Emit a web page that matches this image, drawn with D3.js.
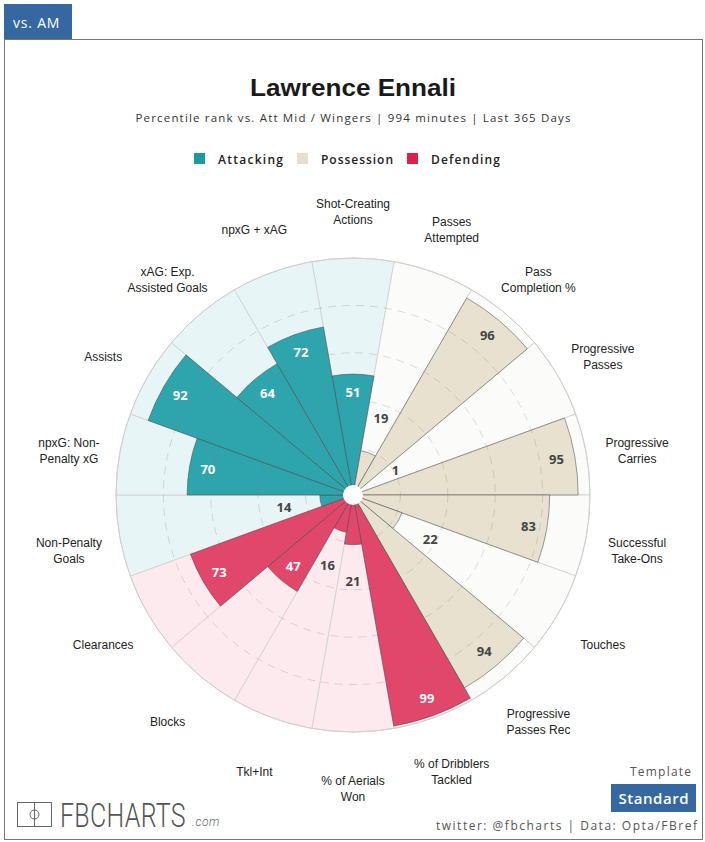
<!DOCTYPE html>
<html>
<head>
<meta charset="utf-8">
<script src="https://cdn.jsdelivr.net/npm/d3@7/dist/d3.min.js"></script>
<style>
  html, body { margin: 0; padding: 0; background: #fff; }
  svg { display: block; }
</style>
</head>
<body>
<svg id="chart" width="705" height="842"></svg>
<script>
// ---- data ----
const categories = [
  "Shot-Creating Actions", "Passes Attempted", "Pass Completion %", "Progressive Passes",
  "Progressive Carries", "Successful Take-Ons", "Touches", "Progressive Passes Rec",
  "% of Dribblers Tackled", "% of Aerials Won", "Tkl+Int", "Blocks", "Clearances",
  "Non-Penalty Goals", "npxG: Non-Penalty xG", "Assists", "xAG: Exp. Assisted Goals", "npxG + xAG"
];
const labelLines = [
  ["Shot-Creating", "Actions"], ["Passes", "Attempted"], ["Pass", "Completion %"], ["Progressive", "Passes"],
  ["Progressive", "Carries"], ["Successful", "Take-Ons"], ["Touches"], ["Progressive", "Passes Rec"],
  ["% of Dribblers", "Tackled"], ["% of Aerials", "Won"], ["Tkl+Int"], ["Blocks"], ["Clearances"],
  ["Non-Penalty", "Goals"], ["npxG: Non-", "Penalty xG"], ["Assists"], ["xAG: Exp.", "Assisted Goals"], ["npxG + xAG"]
];
const percentiles = [51, 19, 96, 1, 95, 83, 22, 94, 99, 21, 16, 47, 73, 14, 70, 92, 64, 72];
const groups = [
  "Attacking", "Possession", "Possession", "Possession", "Possession", "Possession", "Possession", "Possession",
  "Defending", "Defending", "Defending", "Defending", "Defending",
  "Attacking", "Attacking", "Attacking", "Attacking", "Attacking"
];
const groupNames = ["Attacking", "Possession", "Defending"];
const gridTicks = [20, 40, 60, 80];

// ---- styles ----
const barColor = d3.scaleOrdinal().domain(groupNames).range(["#2ea5ac", "#e8e1d0", "#e1466b"]);
const bgColor = d3.scaleOrdinal().domain(groupNames).range(["#e8f5f6", "#fbfbf9", "#fdeaef"]);
const legendColor = d3.scaleOrdinal().domain(groupNames).range(["#1a9aa1", "#e6dfcf", "#dc1f4b"]);

const svg = d3.select("#chart");
const cx = 353, cy = 495, R = 237;

// tab
svg.append("rect").attr("x", 4).attr("y", 4).attr("width", 68).attr("height", 35).attr("fill", "#3568a0");
svg.append("text").attr("x", 13).attr("y", 28).text("vs. AM")
  .attr("fill", "#fff").attr("font-family", "'Open Sans', 'DejaVu Sans', sans-serif")
  .attr("font-size", 14).attr("font-weight", 500).attr("letter-spacing", 0.8);

// card
svg.append("rect").attr("x", 4.5).attr("y", 39.5).attr("width", 698).attr("height", 800)
  .attr("fill", "none").attr("stroke", "#777").attr("stroke-width", 1);

// title
svg.append("text").attr("x", cx).attr("y", 96).attr("text-anchor", "middle")
  .attr("font-family", "'Liberation Sans', Arial, sans-serif").attr("font-weight", 700)
  .attr("font-size", 24).attr("fill", "#1a1a1a")
  .attr("textLength", 206).attr("lengthAdjust", "spacingAndGlyphs")
  .text("Lawrence Ennali");

svg.append("text").attr("x", cx).attr("y", 122).attr("text-anchor", "middle")
  .attr("font-family", "'Open Sans', 'DejaVu Sans', sans-serif")
  .attr("font-size", 11.5).attr("fill", "#333")
  .attr("textLength", 435).attr("lengthAdjust", "spacing")
  .text("Percentile rank vs. Att Mid / Wingers | 994 minutes | Last 365 Days");

// legend
const legendX = [194, 297, 407];
const legendW = [65, 72, 69];
const leg = svg.append("g");
groupNames.forEach((g, i) => {
  leg.append("rect").attr("x", legendX[i]).attr("y", 153).attr("width", 11).attr("height", 11)
    .attr("fill", legendColor(g));
  leg.append("text").attr("x", legendX[i] + 24).attr("y", 164)
    .attr("font-family", "'Open Sans', 'DejaVu Sans', sans-serif").attr("font-weight", 600)
    .attr("font-size", 12).attr("fill", "#222")
    .attr("textLength", legendW[i]).attr("lengthAdjust", "spacing")
    .text(g);
});

// ---- polar chart ----
const x = d3.scaleBand().domain(categories).range([-Math.PI / 18, 2 * Math.PI - Math.PI / 18]).padding(0);
const r = d3.scaleLinear().domain([0, 100]).range([0, R]);
const data = categories.map((c, i) => ({ cat: c, v: percentiles[i], g: groups[i], lines: labelLines[i] }));

const g = svg.append("g").attr("transform", `translate(${cx},${cy})`);

const bgArc = d3.arc().innerRadius(0).outerRadius(r(100))
  .startAngle(d => x(d.cat)).endAngle(d => x(d.cat) + x.bandwidth());
g.append("g").selectAll("path").data(data).join("path")
  .attr("d", bgArc).attr("fill", d => bgColor(d.g))
  .attr("stroke", "#d2d2d2").attr("stroke-width", 0.9);

const barArc = d3.arc().innerRadius(0).outerRadius(d => r(d.v))
  .startAngle(d => x(d.cat)).endAngle(d => x(d.cat) + x.bandwidth());
g.append("g").selectAll("path").data(data).join("path")
  .attr("d", barArc).attr("fill", d => barColor(d.g))
  .attr("stroke", "#4a4a4a").attr("stroke-opacity", 0.6).attr("stroke-width", 0.9);

// dashed grid circles
g.append("g").selectAll("circle").data(gridTicks).join("circle")
  .attr("r", d => r(d)).attr("fill", "none")
  .attr("stroke", "#777").attr("stroke-opacity", 0.28).attr("stroke-width", 0.9)
  .attr("stroke-dasharray", "8,6");

// outer ring
g.append("circle").attr("r", r(100)).attr("fill", "none").attr("stroke", "#cfcfcf").attr("stroke-width", 1);

// center
g.append("circle").attr("r", 10).attr("fill", "#fff");

// value labels
const mid = d => x(d.cat) + x.bandwidth() / 2;
const inside = d => d.v >= 30;
const valR = d => inside(d) ? r(d.v) - 18.5 : Math.max(r(d.v) + 37, 49);
g.append("g").selectAll("text").data(data).join("text")
  .attr("x", d => valR(d) * Math.sin(mid(d)))
  .attr("y", d => -valR(d) * Math.cos(mid(d)))
  .attr("dy", "0.36em").attr("text-anchor", "middle")
  .attr("font-family", "'Open Sans', 'DejaVu Sans', sans-serif").attr("font-weight", 700)
  .attr("font-size", 13)
  .attr("fill", d => inside(d) ? (d.g === "Possession" ? "#444" : "#fff") : "#444")
  .text(d => d.v);

// category labels
const LR = 288.5;
const lab = g.append("g").selectAll("text").data(data).join("text")
  .attr("text-anchor", "middle")
  .attr("font-family", "'Liberation Sans', Arial, sans-serif")
  .attr("font-size", 12).attr("fill", "#222");
lab.each(function (d) {
  const a = mid(d);
  const lx = LR * Math.sin(a);
  const ly = -LR * Math.cos(a) + 5.5;
  const n = d.lines.length;
  d3.select(this).selectAll("tspan").data(d.lines).join("tspan")
    .attr("x", lx)
    .attr("y", (t, i) => ly + (i - (n - 1) / 2) * 16 + 4.3)
    .text(t => t);
});

// ---- footer ----
const logo = svg.append("g").attr("stroke", "#666").attr("fill", "none").attr("stroke-width", 1);
logo.append("rect").attr("x", 17.5).attr("y", 802.5).attr("width", 34).attr("height", 24);
logo.append("line").attr("x1", 34.5).attr("x2", 34.5).attr("y1", 802.5).attr("y2", 826.5);
logo.append("circle").attr("cx", 34.5).attr("cy", 814.5).attr("r", 4.5);

svg.append("text").attr("transform", "translate(60,827) scale(1,1.35)")
  .attr("font-family", "Roboto, 'DejaVu Sans Condensed', sans-serif").attr("font-weight", 300)
  .attr("font-size", 25).attr("fill", "#555")
  .attr("letter-spacing", 0.3)
  .text("FBCHARTS");
svg.append("text").attr("x", 192).attr("y", 826)
  .attr("font-family", "Roboto, 'DejaVu Sans', sans-serif").attr("font-weight", 300)
  .attr("font-style", "italic").attr("font-size", 12).attr("fill", "#666")
  .attr("letter-spacing", 0.6)
  .text(".com");

svg.append("text").attr("x", 691).attr("y", 776).attr("text-anchor", "end")
  .attr("font-family", "'Open Sans', 'DejaVu Sans', sans-serif")
  .attr("font-size", 12).attr("fill", "#555")
  .attr("textLength", 61).attr("lengthAdjust", "spacing")
  .text("Template");
svg.append("rect").attr("x", 611).attr("y", 784).attr("width", 85).attr("height", 28).attr("fill", "#3568a0");
svg.append("text").attr("x", 653.5).attr("y", 803.5).attr("text-anchor", "middle")
  .attr("font-family", "'Open Sans', 'DejaVu Sans', sans-serif").attr("font-weight", 600)
  .attr("font-size", 15).attr("fill", "#fff")
  .attr("textLength", 70).attr("lengthAdjust", "spacing")
  .text("Standard");
svg.append("text").attr("x", 697).attr("y", 830).attr("text-anchor", "end")
  .attr("font-family", "'Open Sans', 'DejaVu Sans', sans-serif")
  .attr("font-size", 12).attr("fill", "#555")
  .attr("textLength", 261).attr("lengthAdjust", "spacing")
  .text("twitter: @fbcharts | Data: Opta/FBref");
</script>
</body>
</html>
